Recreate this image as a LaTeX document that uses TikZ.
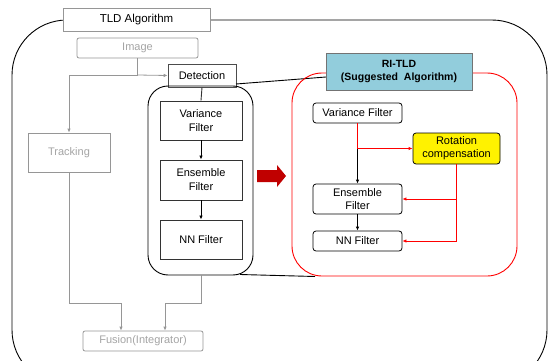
\documentclass[tikz,border=0pt]{standalone}
\usepackage{fontspec}
\setmainfont{Liberation Sans}
\usetikzlibrary{arrows.meta}
\definecolor{lgray}{RGB}{150,150,150}
\definecolor{tgray}{RGB}{165,165,165}
\definecolor{riblue}{RGB}{146,205,220}
\definecolor{dred}{RGB}{192,0,0}
\begin{document}
\begin{tikzpicture}[x=1pt,y=-1pt,
  every node/.style={font=\fontsize{11}{12}\selectfont, align=center, inner sep=0pt},
  blk/.style={draw=black!80, line width=0.9pt, fill=white},
  gbox/.style={draw=lgray, line width=0.8pt, fill=white, text=tgray, rounded corners=2pt},
  rbox/.style={draw=black, line width=0.8pt, fill=white, rounded corners=3pt},
  garr/.style={draw=lgray, line width=0.8pt, -{Latex[length=4pt,width=3.5pt]}},
  gline/.style={draw=lgray, line width=0.8pt},
  barr/.style={draw=black, line width=0.8pt, -{Latex[length=4pt,width=3.5pt]}},
  rarr/.style={draw=red, line width=0.8pt, -{Latex[length=4pt,width=3.5pt]}},
  rline/.style={draw=red, line width=0.8pt}]
\useasboundingbox (0,0) rectangle (549,361);
\clip (0,0) rectangle (549,361);
% outer frame
\draw[black, line width=0.9pt, rounded corners=55pt] (12,20) rectangle (547,385);
% TLD title box
\node[draw=lgray, line width=0.8pt, fill=white, minimum width=147pt, minimum height=23pt, font=\fontsize{11.5}{12}\selectfont] (tld) at (136.5,19.5) {TLD Algorithm};
% Image
\node[gbox, minimum width=121pt, minimum height=20pt] (img) at (137.5,48) {Image};
% Detection
\node[draw=black!70, line width=0.8pt, fill=white, minimum width=68pt, minimum height=23pt] (det) at (202,75.5) {Detection};
% detection container
\draw[black, line width=0.9pt, rounded corners=20pt] (148,86) rectangle (253,275);
\coordinate (contbot) at (201,275);
\node[blk, minimum width=82pt, minimum height=39pt] (vf) at (201,120.5) {Variance\\[2pt]Filter};
\node[blk, minimum width=82pt, minimum height=40pt] (ef) at (201,180) {Ensemble\\[2pt]Filter};
\node[blk, minimum width=82pt, minimum height=39pt] (nn) at (201,239.5) {NN Filter};
\draw[black!80, line width=0.9pt] (det.south) -- (vf.north);
\draw[barr] (vf.south) -- (ef.north);
\draw[barr] (ef.south) -- (nn.north);
% Tracking
\node[draw=lgray, line width=0.8pt, fill=white, text=tgray, minimum width=82pt, minimum height=39pt] (trk) at (69,152.5) {Tracking};
% Fusion
\node[gbox, minimum width=120pt, minimum height=20pt] (fus) at (143,341) {Fusion(Integrator)};
% gray connectors
\coordinate (j1) at (137.5,75);
\draw[gline] (img.south) -- (j1);
\draw[garr] (j1) -- (det.west);
\draw[garr] (j1) -| (trk.north);
\draw[garr] (trk.south) |- (121,303) -- (fus.north -| 121,0);
\draw[garr] (contbot) |- (165,303) -- (fus.north -| 165,0);
% red big arrow
\fill[dred] (257,170) -- (277,170) -- (277,165) -- (286,176) -- (277,187) -- (277,182) -- (257,182) -- cycle;
% callout lines
\coordinate (c1) at (236,84);
\coordinate (c2) at (240,274.5);
\draw[black, line width=0.9pt] (c1) -- (326,77);
\draw[black, line width=0.9pt] (c2) -- (315,276.5);
% red container
\draw[red, line width=0.9pt, rounded corners=30pt] (292,73) rectangle (517,276);
% RI-TLD box
\node[draw=black!55, line width=0.8pt, fill=riblue, minimum width=146pt, minimum height=37pt, font=\bfseries\fontsize{10.5}{12}\selectfont] (ri) at (399,71.5) {RI-TLD\\[1pt](Suggested\ \ Algorithm)};
% right filters
\node[rbox, minimum width=89pt, minimum height=20pt] (rvf) at (357.5,113) {Variance Filter};
\node[rbox, fill=yellow, minimum width=87pt, minimum height=31pt] (rot) at (456.5,148.5) {Rotation\\[1pt]compensation};
\node[rbox, minimum width=89pt, minimum height=30pt] (ref) at (357.5,199) {Ensemble\\[1pt]Filter};
\node[rbox, minimum width=89pt, minimum height=20pt] (rnn) at (357.5,241) {NN Filter};
\coordinate (rj) at (357.5,148.5);
\draw[rline] (rvf.south) -- (rj);
\draw[rarr] (rj) -- (rot.west);
\draw[barr] (rj) -- (ref.north);
\draw[barr] (ref.south) -- (rnn.north);
\coordinate (rk) at (456.5,199);
\draw[rline] (rot.south) -- (456.5,241);
\draw[rarr] (rk) -- (ref.east);
\draw[rarr] (456.5,241) -- (rnn.east);
\end{tikzpicture}
\end{document}
